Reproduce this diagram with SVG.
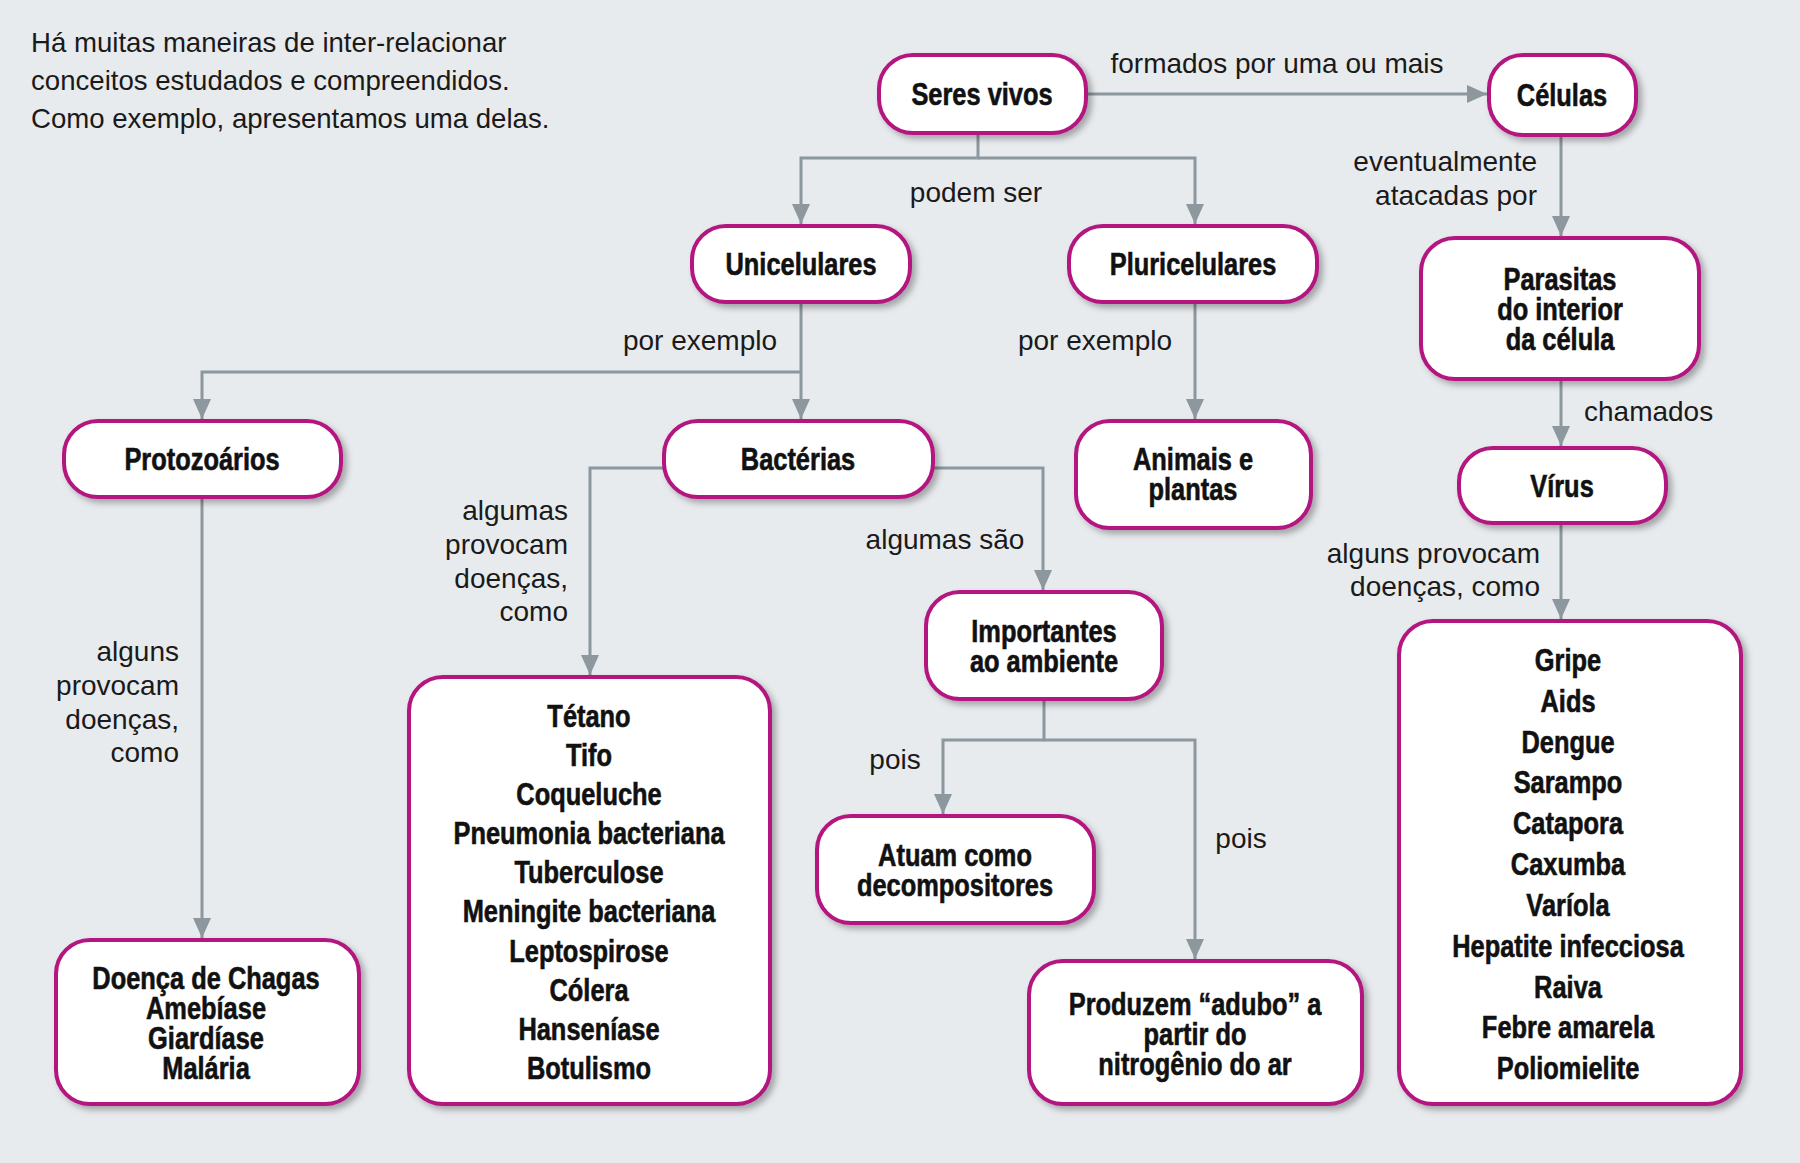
<svg xmlns="http://www.w3.org/2000/svg" width="1800" height="1163" viewBox="0 0 1800 1163">
<defs>
<style>
.bg{fill:#e8ebee}
.node rect{fill:#fff;stroke:#b4147f;stroke-width:4;filter:url(#sh)}
.node text{font-family:"Liberation Sans",Arial,sans-serif;font-weight:bold;font-size:31px;fill:#111;stroke:#111;stroke-width:0.6;text-anchor:middle}
.conn path{fill:none;stroke:#8c979e;stroke-width:3}
.lbl{font-family:"Liberation Sans","Open Sans",sans-serif;font-size:28px;fill:#1a1a1a}
.intro{font-size:27.6px}
.mid{text-anchor:middle}
.end{text-anchor:end}
</style>
<filter id="sh" x="-10%" y="-10%" width="130%" height="130%">
<feDropShadow dx="4" dy="4" stdDeviation="3" flood-color="#000" flood-opacity="0.3"/>
</filter>
<marker id="ar" markerUnits="userSpaceOnUse" markerWidth="20" markerHeight="18" refX="20" refY="9" orient="auto">
<path d="M0,0 L20,9 L0,18 z" fill="#8c979e"/>
</marker>
</defs>
<rect class="bg" x="0" y="0" width="1800" height="1163"/>

<g id="intro" class="lbl intro">
<text x="31" y="52">Há muitas maneiras de inter-relacionar</text>
<text x="31" y="90">conceitos estudados e compreendidos.</text>
<text x="31" y="128">Como exemplo, apresentamos uma delas.</text>
</g>

<g id="connectors" class="conn">
<path d="M1086,94 H1487" marker-end="url(#ar)"/>
<path d="M978,133 V158 H801 V224" marker-end="url(#ar)"/>
<path d="M978,158 H1195 V224" marker-end="url(#ar)"/>
<path d="M1561,135 V236" marker-end="url(#ar)"/>
<path d="M1561,379 V446" marker-end="url(#ar)"/>
<path d="M1561,523 V619" marker-end="url(#ar)"/>
<path d="M801,302 V419" marker-end="url(#ar)"/>
<path d="M801,372 H202 V419" marker-end="url(#ar)"/>
<path d="M1195,302 V419" marker-end="url(#ar)"/>
<path d="M202,497 V938" marker-end="url(#ar)"/>
<path d="M664,468 H590 V675" marker-end="url(#ar)"/>
<path d="M933,468 H1043 V590" marker-end="url(#ar)"/>
<path d="M1044,699 V740 H943 V814" marker-end="url(#ar)"/>
<path d="M1044,740 H1195 V959" marker-end="url(#ar)"/>
</g>

<g id="labels" class="lbl">
<text class="mid" x="1277" y="73">formados por uma ou mais</text>
<text class="mid" x="976" y="202">podem ser</text>
<text class="end" x="1537" y="171">eventualmente</text>
<text class="end" x="1537" y="205">atacadas por</text>
<text x="1584" y="421">chamados</text>
<text class="end" x="1540" y="563">alguns provocam</text>
<text class="end" x="1540" y="596">doenças, como</text>
<text class="mid" x="700" y="350">por exemplo</text>
<text class="mid" x="1095" y="350">por exemplo</text>
<text class="end" x="179" y="661">alguns</text>
<text class="end" x="179" y="695">provocam</text>
<text class="end" x="179" y="729">doenças,</text>
<text class="end" x="179" y="762">como</text>
<text class="end" x="568" y="520">algumas</text>
<text class="end" x="568" y="554">provocam</text>
<text class="end" x="568" y="588">doenças,</text>
<text class="end" x="568" y="621">como</text>
<text class="mid" x="945" y="549">algumas são</text>
<text class="mid" x="895" y="769">pois</text>
<text class="mid" x="1241" y="848">pois</text>
</g>

<g id="seres-vivos" class="node"><rect x="879" y="55" width="207" height="78" rx="34"/><g transform="translate(982 0) scale(0.82 1)"><text x="0" y="105">Seres vivos</text></g></g>
<g id="celulas" class="node"><rect x="1489" y="55" width="147" height="80" rx="34"/><g transform="translate(1562 0) scale(0.82 1)"><text x="0" y="106">Células</text></g></g>
<g id="unicelulares" class="node"><rect x="692" y="226" width="218" height="76" rx="34"/><g transform="translate(801 0) scale(0.82 1)"><text x="0" y="275">Unicelulares</text></g></g>
<g id="pluricelulares" class="node"><rect x="1069" y="226" width="248" height="76" rx="34"/><g transform="translate(1193 0) scale(0.82 1)"><text x="0" y="275">Pluricelulares</text></g></g>
<g id="parasitas" class="node"><rect x="1421" y="238" width="278" height="141" rx="34"/><g transform="translate(1560 0) scale(0.82 1)"><text x="0" y="290">Parasitas</text><text x="0" y="320">do interior</text><text x="0" y="350">da célula</text></g></g>
<g id="virus" class="node"><rect x="1459" y="448" width="207" height="75" rx="34"/><g transform="translate(1562 0) scale(0.82 1)"><text x="0" y="497">Vírus</text></g></g>
<g id="protozoarios" class="node"><rect x="64" y="421" width="277" height="76" rx="34"/><g transform="translate(202 0) scale(0.82 1)"><text x="0" y="470">Protozoários</text></g></g>
<g id="bacterias" class="node"><rect x="664" y="421" width="269" height="76" rx="34"/><g transform="translate(798 0) scale(0.82 1)"><text x="0" y="470">Bactérias</text></g></g>
<g id="animais-plantas" class="node"><rect x="1076" y="421" width="235" height="107" rx="34"/><g transform="translate(1193 0) scale(0.82 1)"><text x="0" y="470">Animais e</text><text x="0" y="500">plantas</text></g></g>
<g id="importantes" class="node"><rect x="926" y="592" width="236" height="107" rx="34"/><g transform="translate(1044 0) scale(0.82 1)"><text x="0" y="642">Importantes</text><text x="0" y="672">ao ambiente</text></g></g>
<g id="decompositores" class="node"><rect x="817" y="816" width="277" height="107" rx="34"/><g transform="translate(955 0) scale(0.82 1)"><text x="0" y="866">Atuam como</text><text x="0" y="896">decompositores</text></g></g>
<g id="produzem" class="node"><rect x="1029" y="961" width="333" height="143" rx="34"/><g transform="translate(1195 0) scale(0.82 1)"><text x="0" y="1015">Produzem “adubo” a</text><text x="0" y="1045">partir do</text><text x="0" y="1075">nitrogênio do ar</text></g></g>
<g id="doencas-protozoarios" class="node"><rect x="56" y="940" width="303" height="164" rx="34"/><g transform="translate(206 0) scale(0.82 1)"><text x="0" y="989">Doença de Chagas</text><text x="0" y="1019">Amebíase</text><text x="0" y="1049">Giardíase</text><text x="0" y="1079">Malária</text></g></g>
<g id="doencas-bacterias" class="node"><rect x="409" y="677" width="361" height="427" rx="34"/><g transform="translate(589 0) scale(0.82 1)">
<text x="0" y="727">Tétano</text><text x="0" y="766">Tifo</text><text x="0" y="805">Coqueluche</text><text x="0" y="844">Pneumonia bacteriana</text><text x="0" y="883">Tuberculose</text><text x="0" y="922">Meningite bacteriana</text><text x="0" y="962">Leptospirose</text><text x="0" y="1001">Cólera</text><text x="0" y="1040">Hanseníase</text><text x="0" y="1079">Botulismo</text></g></g>
<g id="doencas-virus" class="node"><rect x="1399" y="621" width="342" height="483" rx="34"/><g transform="translate(1568 0) scale(0.82 1)">
<text x="0" y="671">Gripe</text><text x="0" y="712">Aids</text><text x="0" y="753">Dengue</text><text x="0" y="793">Sarampo</text><text x="0" y="834">Catapora</text><text x="0" y="875">Caxumba</text><text x="0" y="916">Varíola</text><text x="0" y="957">Hepatite infecciosa</text><text x="0" y="998">Raiva</text><text x="0" y="1038">Febre amarela</text><text x="0" y="1079">Poliomielite</text></g></g>
</svg>
